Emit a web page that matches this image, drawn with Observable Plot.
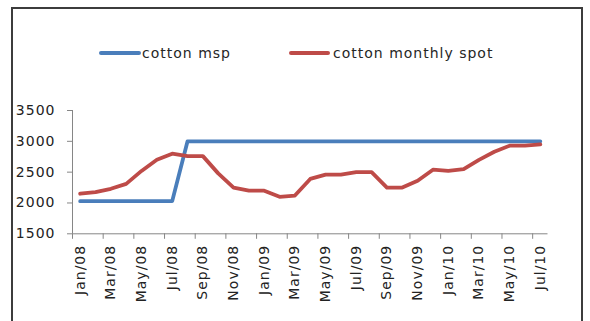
<!DOCTYPE html>
<html>
<head>
<meta charset="utf-8">
<script src="https://cdn.jsdelivr.net/npm/d3@7"></script>
<script src="https://cdn.jsdelivr.net/npm/@observablehq/plot@0.6"></script>
<style>
  html, body { margin: 0; padding: 0; background: #fff; overflow: hidden; }
  #wrap { position: relative; width: 590px; height: 321px; overflow: hidden; font-family: "DejaVu Sans", sans-serif; }
  #legend { position: relative; height: 70px; }
  .sw { position: absolute; height: 4px; border-radius: 2px; top: 51px; }
  .lt { position: absolute; top: 45px; font-size: 14px; line-height: 16px; letter-spacing: 1px; color: #262626; white-space: nowrap; }
  #frame { position: absolute; left: 11px; top: 7px; width: 572px; height: 340px; border: 2px solid #3c3c3c; box-sizing: border-box; pointer-events: none; }
  svg { display: block; }
</style>
</head>
<body>
<div id="wrap">
  <div id="legend">
    <div class="sw" style="left:99px;width:42px;background:#4a7ebb"></div>
    <div class="lt" style="left:142px">cotton msp</div>
    <div class="sw" style="left:289px;width:41px;background:#be4b48"></div>
    <div class="lt" style="left:333px">cotton monthly spot</div>
  </div>
  <div id="chart"></div>
  <div id="frame"></div>
</div>
<script>
const months = ["Jan/08","Feb/08","Mar/08","Apr/08","May/08","Jun/08","Jul/08","Aug/08","Sep/08","Oct/08","Nov/08","Dec/08",
                "Jan/09","Feb/09","Mar/09","Apr/09","May/09","Jun/09","Jul/09","Aug/09","Sep/09","Oct/09","Nov/09","Dec/09",
                "Jan/10","Feb/10","Mar/10","Apr/10","May/10","Jun/10","Jul/10"];
const msp  = [2030,2030,2030,2030,2030,2030,2030,3000,3000,3000,3000,3000,
              3000,3000,3000,3000,3000,3000,3000,3000,3000,3000,3000,3000,
              3000,3000,3000,3000,3000,3000,3000];
const spot = [2150,2175,2230,2310,2520,2700,2800,2760,2760,2480,2250,2200,
              2200,2100,2120,2390,2460,2460,2500,2500,2250,2250,2360,2540,
              2520,2550,2700,2830,2930,2930,2950];
const yTicks = [1500,2000,2500,3000,3500];

const rows = months.map((m, i) => ({i: i + 0.5, month: m, msp: msp[i], spot: spot[i]}));
const boundaryTicks = d3.range(0, months.length, 2);
const labelTicks = d3.range(0, months.length, 2).map(i => i + 0.5);
const axisColor = "#868686";

const plot = Plot.plot({
  width: 590,
  height: 251,
  marginLeft: 72,
  marginRight: 42.5,
  marginTop: 40,
  marginBottom: 87.7,
  style: {fontFamily: "DejaVu Sans, sans-serif", fontSize: "14px", color: "#222", letterSpacing: "1px", background: "transparent"},
  x: {type: "linear", domain: [0, months.length]},
  y: {domain: [1500, 3500]},
  marks: [
    Plot.axisY({ticks: yTicks, tickSize: 5, tickPadding: 12, tickFormat: d => String(d), stroke: axisColor, fill: "#222", label: null}),
    Plot.axisX({ticks: boundaryTicks, tickSize: 5.5, tickFormat: () => "", stroke: axisColor, label: null}),
    Plot.axisX({ticks: labelTicks, tickSize: 0, tickPadding: 11, tickRotate: -90, tickFormat: d => months[Math.round(d - 0.5)], fill: "#222", label: null}),
    Plot.ruleX([0], {stroke: axisColor}),
    Plot.ruleY([1500], {stroke: axisColor}),
    Plot.line(rows, {x: "i", y: "msp", stroke: "#4a7ebb", strokeWidth: 3.8, strokeLinejoin: "round", strokeLinecap: "round"}),
    Plot.line(rows, {x: "i", y: "spot", stroke: "#be4b48", strokeWidth: 3.8, strokeLinejoin: "round", strokeLinecap: "round"})
  ]
});
document.getElementById("chart").appendChild(plot);
</script>
</body>
</html>
